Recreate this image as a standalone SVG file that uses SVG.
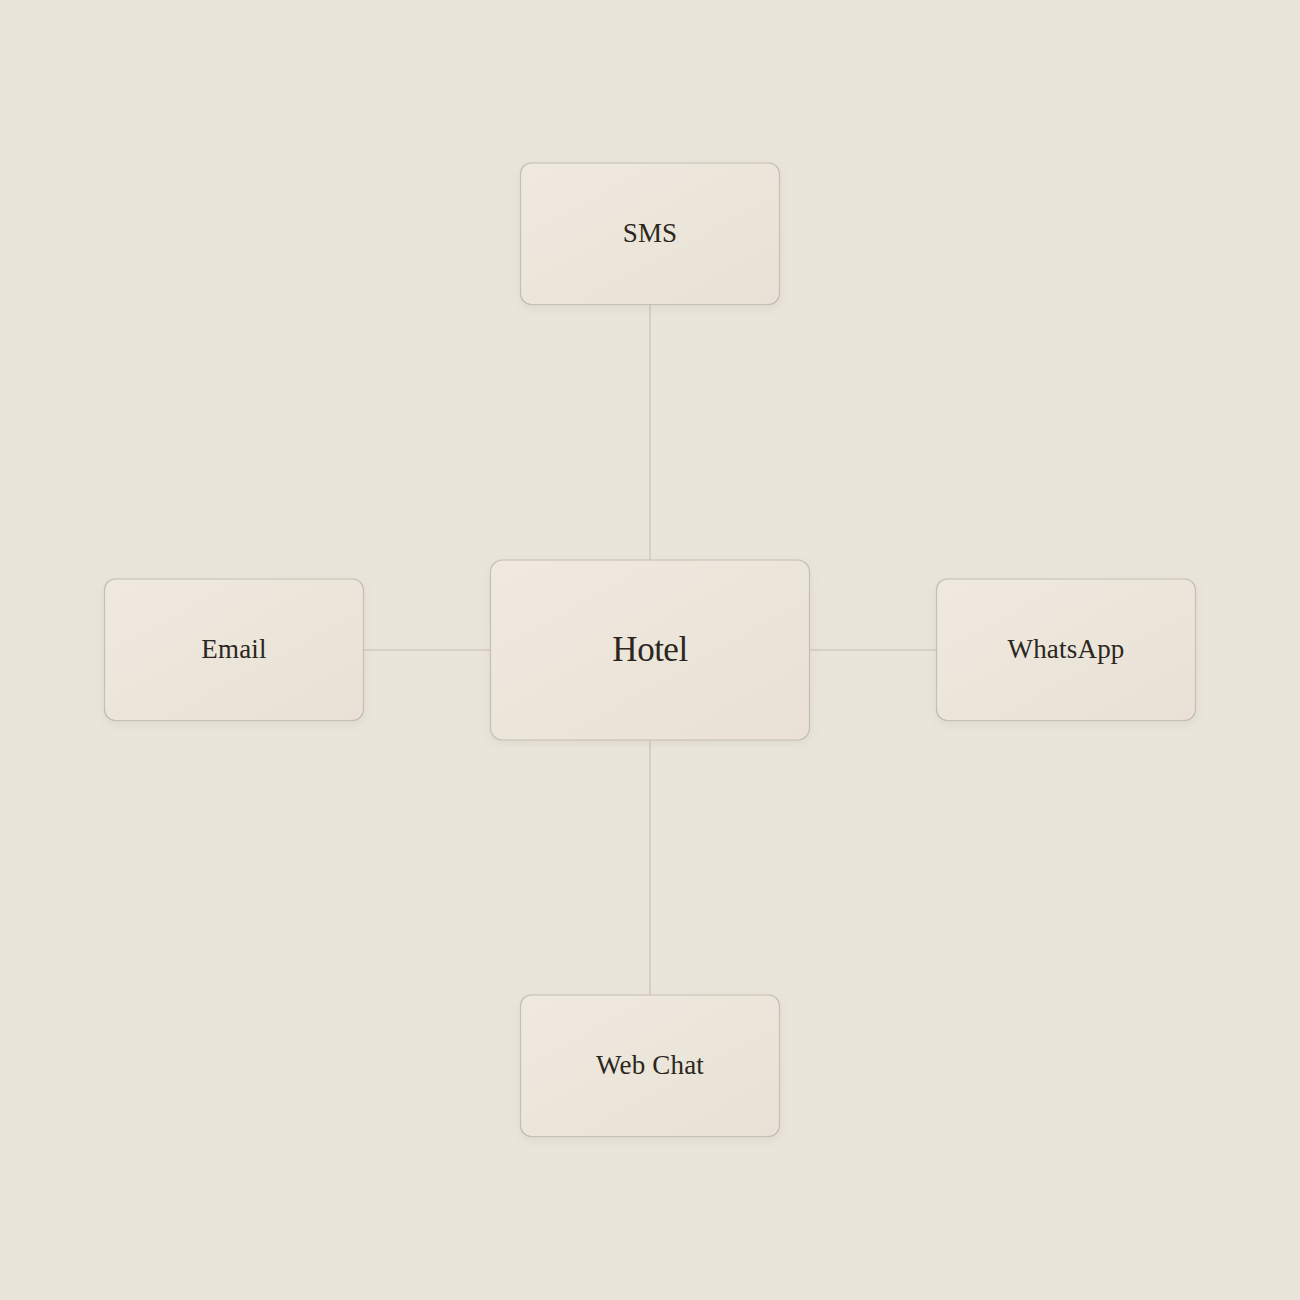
<svg xmlns="http://www.w3.org/2000/svg" width="1300" height="1300" viewBox="0 0 1300 1300">
<style>
.node rect{fill:url(#g);stroke:#c6beb2;stroke-width:1.2;filter:url(#sh)}
.node text{font-family:"Liberation Serif","DejaVu Serif",serif;fill:#2b2720;text-anchor:middle;dominant-baseline:central;letter-spacing:0.2px}
.node text.big{letter-spacing:-0.5px}
.conn line{stroke:#cfc9be;stroke-width:1.5}
</style>
<defs>
<linearGradient id="g" x1="0" y1="0" x2="1" y2="1">
<stop offset="0" stop-color="#efe9df"/>
<stop offset="1" stop-color="#e9e1d5"/>
</linearGradient>
<filter id="sh" x="-10%" y="-10%" width="120%" height="130%">
<feDropShadow dx="0" dy="3" stdDeviation="4" flood-color="#8a7e6a" flood-opacity="0.12"/>
</filter>
</defs>
<rect width="1300" height="1300" fill="#e9e5db"/>
<g id="connectors" class="conn">
<line x1="650" y1="305" x2="650" y2="560"/>
<line x1="650" y1="740" x2="650" y2="995"/>
<line x1="363" y1="650" x2="490" y2="650"/>
<line x1="810" y1="650" x2="937" y2="650"/>
</g>
<g id="hotel" class="node">
<rect x="490.5" y="560" width="319" height="180" rx="12"/>
<text class="big" x="650" y="649" font-size="35">Hotel</text>
</g>
<g id="sms" class="node">
<rect x="520.5" y="163" width="259" height="141.5" rx="11"/>
<text x="650" y="233" font-size="27">SMS</text>
</g>
<g id="email" class="node">
<rect x="104.5" y="579" width="259" height="141.5" rx="11"/>
<text x="234" y="649" font-size="27">Email</text>
</g>
<g id="whatsapp" class="node">
<rect x="936.5" y="579" width="259" height="141.5" rx="11"/>
<text x="1066" y="649" font-size="27">WhatsApp</text>
</g>
<g id="webchat" class="node">
<rect x="520.5" y="995" width="259" height="141.5" rx="11"/>
<text x="650" y="1065" font-size="27">Web Chat</text>
</g>
</svg>
